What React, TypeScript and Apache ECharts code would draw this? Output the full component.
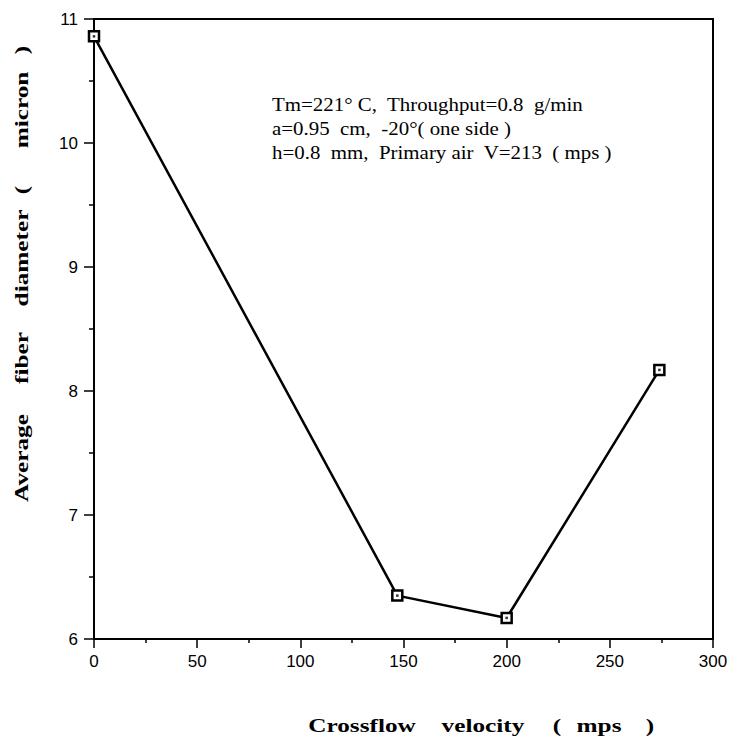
import React, { useEffect, useRef } from "react";
import * as echarts from "echarts";

const velocity = [0, 147, 200, 274];
const diameter = [10.86, 6.35, 6.17, 8.17];
const annotationLines = [
  "Tm=221° C,  Throughput=0.8  g/min",
  "a=0.95  cm,  -20°( one side )",
  "h=0.8  mm,  Primary air  V=213  ( mps )",
];
const xTitleParts = ["Crossflow", "velocity", "(", "mps", ")"];
const yTitleParts = ["Average", "fiber", "diameter", "(", "micron", ")"];

export default function App() {
  const ref = useRef<HTMLDivElement>(null);
  useEffect(() => {
    if (!ref.current) return;
    const chart = echarts.init(ref.current, undefined, { renderer: "svg" });
    const data = velocity.map((v, i) => [v, diameter[i]]);
    const titleFont = "bold 19px 'Liberation Serif'";
    const xPos = [362, 483, 557, 599, 650];
    const yPos = [458, 358, 258, 190, 110, 50];
    const graphics: any[] = [];
    annotationLines.forEach((t, i) => {
      graphics.push({
        type: "text",
        x: 272,
        y: 104 + i * 24,
        scaleX: 1.1,
        style: {
          text: t,
          font: "19px 'Liberation Serif'",
          fill: "#000",
          textAlign: "left",
          textVerticalAlign: "middle",
        },
      });
    });
    xTitleParts.forEach((t, i) => {
      graphics.push({
        type: "text",
        x: xPos[i],
        y: 726,
        scaleX: 1.33,
        style: {
          text: t,
          font: titleFont,
          fill: "#000",
          textAlign: "center",
          textVerticalAlign: "middle",
        },
      });
    });
    yTitleParts.forEach((t, i) => {
      graphics.push({
        type: "text",
        x: 22,
        y: yPos[i],
        rotation: Math.PI / 2,
        scaleX: 1.33,
        style: {
          text: t,
          font: titleFont,
          fill: "#000",
          textAlign: "center",
          textVerticalAlign: "middle",
        },
      });
    });
    chart.setOption({
      animation: false,
      backgroundColor: "#fff",
      grid: {
        left: 94,
        right: 25,
        top: 19,
        bottom: 105,
        show: true,
        borderColor: "#000",
        borderWidth: 2,
        containLabel: false,
        outerBoundsMode: "none",
      },
      xAxis: {
        type: "value",
        min: 0,
        max: 300,
        interval: 50,
        axisLine: { show: true, onZero: false, lineStyle: { color: "#000", width: 2 } },
        axisTick: { show: true, inside: false, length: 9, lineStyle: { color: "#000", width: 1.5 } },
        minorTick: { show: true, splitNumber: 2, length: 4, lineStyle: { color: "#000", width: 1.5 } },
        splitLine: { show: false },
        axisLabel: {
          color: "#000",
          fontFamily: "'Liberation Sans'",
          fontSize: 17,
          margin: 14,
        },
      },
      yAxis: {
        type: "value",
        min: 6,
        max: 11,
        interval: 1,
        axisLine: { show: true, onZero: false, lineStyle: { color: "#000", width: 2 } },
        axisTick: { show: true, inside: false, length: 10, lineStyle: { color: "#000", width: 1.5 } },
        minorTick: { show: true, splitNumber: 2, length: 5, lineStyle: { color: "#000", width: 1.5 } },
        splitLine: { show: false },
        axisLabel: {
          color: "#000",
          fontFamily: "'Liberation Sans'",
          fontSize: 17,
          margin: 16,
        },
      },
      series: [
        {
          type: "line",
          data,
          clip: false,
          symbol: "rect",
          symbolSize: 10,
          showSymbol: true,
          lineStyle: { color: "#000", width: 2.5 },
          itemStyle: { color: "#fff", borderColor: "#000", borderWidth: 2.5 },
          z: 2,
        },
        {
          type: "scatter",
          data,
          clip: false,
          symbol: "rect",
          symbolSize: 2.5,
          itemStyle: { color: "#000" },
          z: 3,
        },
      ],
      graphic: graphics,
    });
    return () => chart.dispose();
  }, []);
  return <div ref={ref} style={{ width: 738, height: 744, margin: -8 }} />;
}
